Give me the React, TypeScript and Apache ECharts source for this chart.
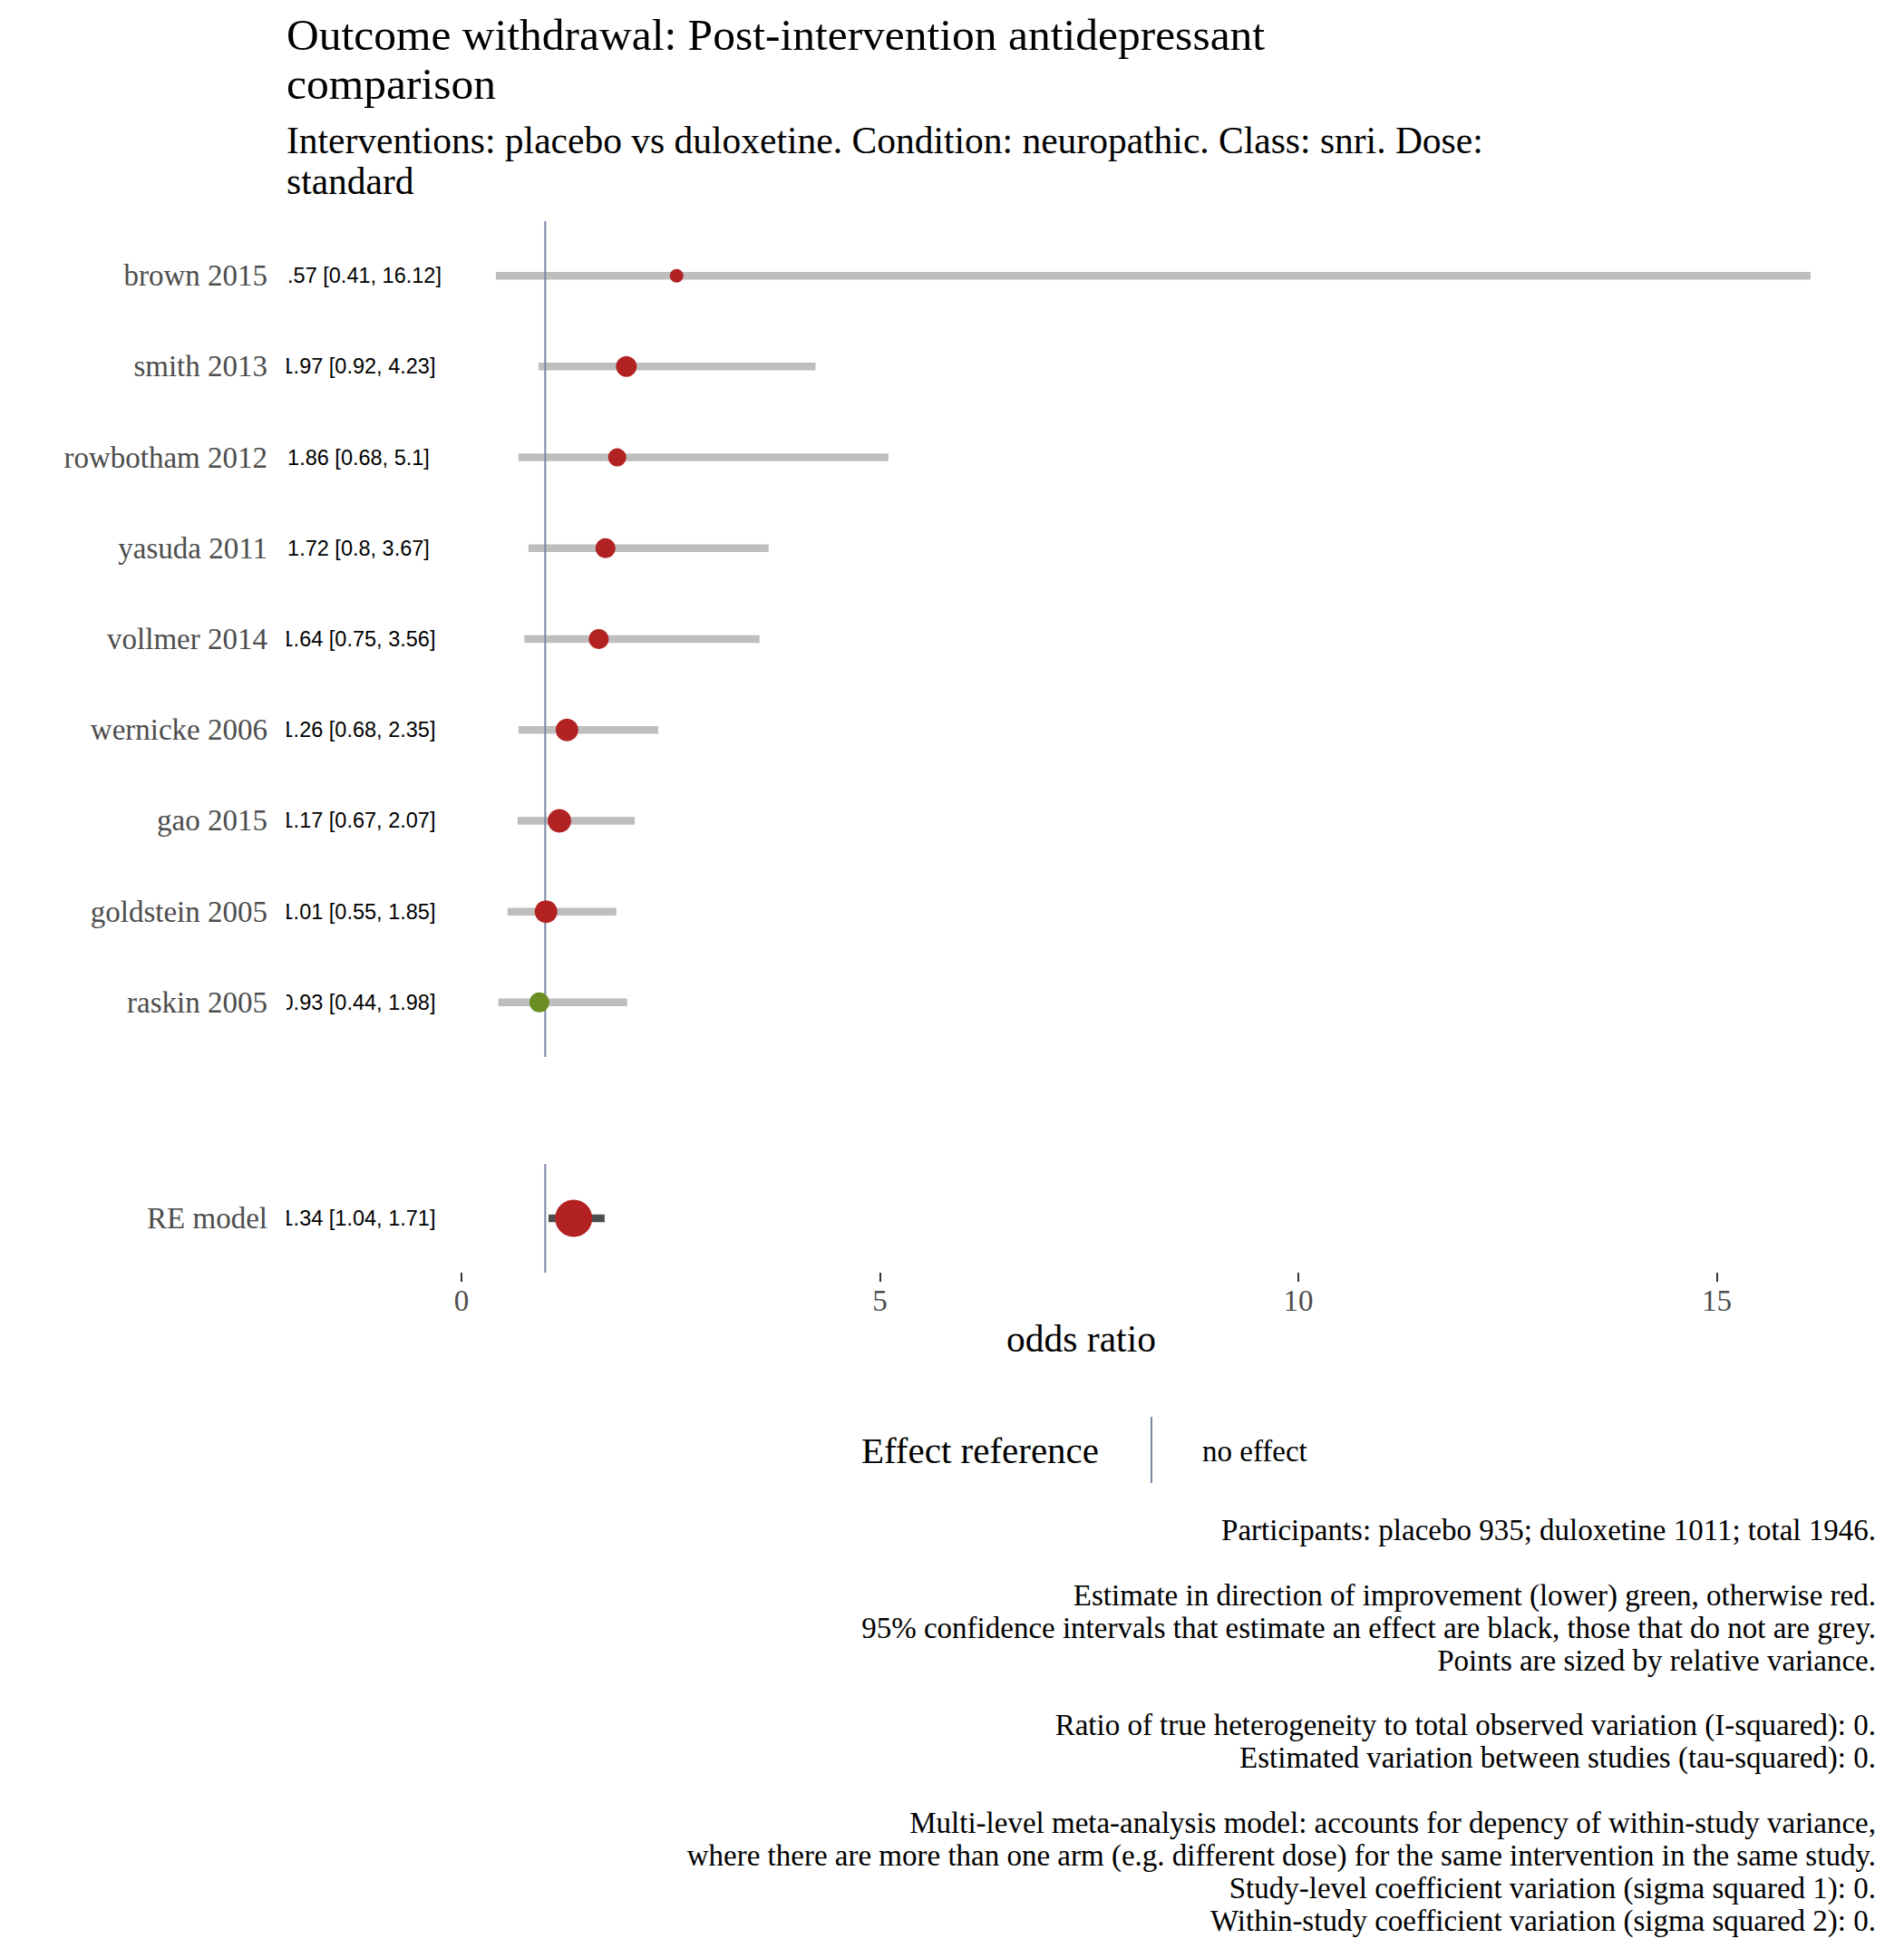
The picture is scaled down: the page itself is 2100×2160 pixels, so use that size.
import React, { useEffect, useRef } from "react";
import * as echarts from "echarts";

const studies = [
  "brown 2015",
  "smith 2013",
  "rowbotham 2012",
  "yasuda 2011",
  "vollmer 2014",
  "wernicke 2006",
  "gao 2015",
  "goldstein 2005",
  "raskin 2005",
];
const estimates = [2.57, 1.97, 1.86, 1.72, 1.64, 1.26, 1.17, 1.01, 0.93];
const lowers = [0.41, 0.92, 0.68, 0.8, 0.75, 0.68, 0.67, 0.55, 0.44];
const uppers = [16.12, 4.23, 5.1, 3.67, 3.56, 2.35, 2.07, 1.85, 1.98];
// relative weights (points are sized by relative variance)
const weights = [2.25, 5.3, 4.0, 4.84, 4.84, 6.25, 6.76, 6.25, 4.84];

const modelLabel = ["RE model"];
const modelEstimate = [1.34];
const modelLower = [1.04];
const modelUpper = [1.71];
const modelWeight = [16.8];

const xTicks = [0, 5, 10, 15];

const titleLines = ["Outcome withdrawal: Post-intervention antidepressant", "comparison"];
const subtitleLines = [
  "Interventions: placebo vs duloxetine. Condition: neuropathic. Class: snri. Dose:",
  "standard",
];
const captionLines = [
  "Participants: placebo 935; duloxetine 1011; total 1946.",
  "",
  "Estimate in direction of improvement (lower) green, otherwise red.",
  "95% confidence intervals that estimate an effect are black, those that do not are grey.",
  "Points are sized by relative variance.",
  "",
  "Ratio of true heterogeneity to total observed variation (I-squared): 0.",
  "Estimated variation between studies (tau-squared): 0.",
  "",
  "Multi-level meta-analysis model: accounts for depency of within-study variance,",
  "where there are more than one arm (e.g. different dose) for the same intervention in the same study.",
  "Study-level coefficient variation (sigma squared 1): 0.",
  "Within-study coefficient variation (sigma squared 2): 0.",
];

const SERIF = '"Liberation Serif", "Times New Roman", serif';
const SANS = '"Liberation Sans", Arial, sans-serif';
const RED = "#B22222";
const GREEN = "#6B8E23";
const CI_GREY = "#BEBEBE";
const CI_DARK = "#4D4D4D";
const REF = "#7A88A3";
const LABEL_X = -1.23;
const X_MIN = -2.091;
const X_MAX = 16.9;
const LEFT = 316;
const RIGHT = 31;
const BASE = 41.5;
const SMALL = 33;

const fmt = (e: number, l: number, u: number) => `${e} [${l}, ${u}]`;
const ptColor = (e: number) => (e < 1 ? GREEN : RED);
const ciColor = (l: number, u: number) => (l > 1 || u < 1 ? CI_DARK : CI_GREY);
const ptSize = (w: number) => 10 * Math.sqrt(w);

function buildSeries(
  gridIdx: number,
  labels: string[],
  est: number[],
  lo: number[],
  hi: number[],
  w: number[],
  yMax: number
) {
  const rows = labels.map((_, i) => i + 1);
  return [
    {
      type: "custom",
      xAxisIndex: gridIdx,
      yAxisIndex: gridIdx,
      z: 2,
      clip: true,
      data: rows.map((r, i) => [lo[i], hi[i], r]),
      renderItem: (params: any, api: any) => {
        const i = params.dataIndex;
        const a = api.coord([api.value(0), api.value(2)]);
        const b = api.coord([api.value(1), api.value(2)]);
        return {
          type: "line",
          shape: { x1: a[0], y1: a[1], x2: b[0], y2: b[1] },
          style: { stroke: ciColor(lo[i], hi[i]), lineWidth: 8.5, lineCap: "butt" },
        };
      },
    },
    {
      type: "line",
      xAxisIndex: gridIdx,
      yAxisIndex: gridIdx,
      z: 3,
      symbol: "none",
      silent: true,
      data: [
        [1, 0.4],
        [1, yMax],
      ],
      lineStyle: { color: REF, width: 2 },
    },
    {
      type: "scatter",
      xAxisIndex: gridIdx,
      yAxisIndex: gridIdx,
      z: 4,
      data: rows.map((r, i) => ({
        value: [est[i], r],
        symbolSize: ptSize(w[i]),
        itemStyle: { color: ptColor(est[i]), opacity: 1 },
      })),
    },
    {
      type: "custom",
      xAxisIndex: gridIdx,
      yAxisIndex: gridIdx,
      z: 5,
      clip: true,
      data: rows.map((r) => [LABEL_X, r]),
      renderItem: (params: any, api: any) => {
        const i = params.dataIndex;
        const p = api.coord([api.value(0), api.value(1)]);
        return {
          type: "text",
          x: p[0],
          y: p[1],
          style: {
            text: fmt(est[i], lo[i], hi[i]),
            fill: "#000000",
            fontSize: 23.5,
            fontFamily: SANS,
            align: "center",
            verticalAlign: "middle",
          },
        };
      },
    },
  ];
}

function yAxisFor(gridIdx: number, labels: string[], yMax: number) {
  const vals = labels.map((_, i) => i + 1);
  return {
    gridIndex: gridIdx,
    type: "value",
    min: 0.4,
    max: yMax,
    inverse: true,
    axisLine: { show: false },
    axisTick: { show: false },
    splitLine: { show: false },
    axisLabel: {
      customValues: vals,
      formatter: (v: number) => labels[Math.round(v) - 1] ?? "",
      margin: 21,
      fontSize: SMALL,
      fontFamily: SERIF,
      color: "#4D4D4D",
    },
  };
}

export default function App() {
  const ref = useRef<HTMLDivElement>(null);
  useEffect(() => {
    document.body.style.margin = "0";
    if (!ref.current) return;
    const chart = echarts.init(ref.current, undefined, { renderer: "svg" });

    const graphics: any[] = [];
    titleLines.forEach((t, i) =>
      graphics.push({
        type: "text",
        x: LEFT,
        y: 38 + i * 54,
        style: { text: t, fontSize: 49.5, fontFamily: SERIF, fill: "#000", align: "left", verticalAlign: "middle" },
      })
    );
    subtitleLines.forEach((t, i) =>
      graphics.push({
        type: "text",
        x: LEFT,
        y: 155 + i * 45,
        style: { text: t, fontSize: BASE, fontFamily: SERIF, fill: "#000", align: "left", verticalAlign: "middle" },
      })
    );
    graphics.push({
      type: "text",
      x: (LEFT + 2100 - RIGHT) / 2,
      y: 1477,
      style: { text: "odds ratio", fontSize: BASE, fontFamily: SERIF, fill: "#000", align: "center", verticalAlign: "middle" },
    });
    // legend
    graphics.push({
      type: "text",
      x: 1212,
      y: 1600,
      style: { text: "Effect reference", fontSize: 41, fontFamily: SERIF, fill: "#000", align: "right", verticalAlign: "middle" },
    });
    graphics.push({
      type: "line",
      shape: { x1: 1270, y1: 1563, x2: 1270, y2: 1636 },
      style: { stroke: REF, lineWidth: 2 },
    });
    graphics.push({
      type: "text",
      x: 1326,
      y: 1601,
      style: { text: "no effect", fontSize: SMALL, fontFamily: SERIF, fill: "#000", align: "left", verticalAlign: "middle" },
    });
    captionLines.forEach((t, i) => {
      if (!t) return;
      graphics.push({
        type: "text",
        x: 2100 - RIGHT,
        y: 1688 + i * 35.9,
        style: { text: t, fontSize: SMALL, fontFamily: SERIF, fill: "#000", align: "right", verticalAlign: "middle" },
      });
    });

    chart.setOption({
      animation: false,
      backgroundColor: "#ffffff",
      grid: [
        { left: LEFT, right: RIGHT, top: 244, height: 922 },
        { left: LEFT, right: RIGHT, top: 1284, height: 120 },
      ],
      xAxis: [
        { gridIndex: 0, type: "value", min: X_MIN, max: X_MAX, show: false, splitLine: { show: false } },
        {
          gridIndex: 1,
          type: "value",
          min: X_MIN,
          max: X_MAX,
          axisLine: { show: false },
          splitLine: { show: false },
          axisTick: { show: true, customValues: xTicks, length: 10, lineStyle: { color: "#333333", width: 2 } },
          axisLabel: { customValues: xTicks, margin: 14, fontSize: SMALL, fontFamily: SERIF, color: "#4D4D4D" },
        },
      ],
      yAxis: [yAxisFor(0, studies, 9.6), yAxisFor(1, modelLabel, 1.6)],
      series: [
        ...buildSeries(0, studies, estimates, lowers, uppers, weights, 9.6),
        ...buildSeries(1, modelLabel, modelEstimate, modelLower, modelUpper, modelWeight, 1.6),
      ],
      graphic: graphics,
    });
    return () => chart.dispose();
  }, []);
  return <div ref={ref} style={{ width: 2100, height: 2160 }} />;
}
